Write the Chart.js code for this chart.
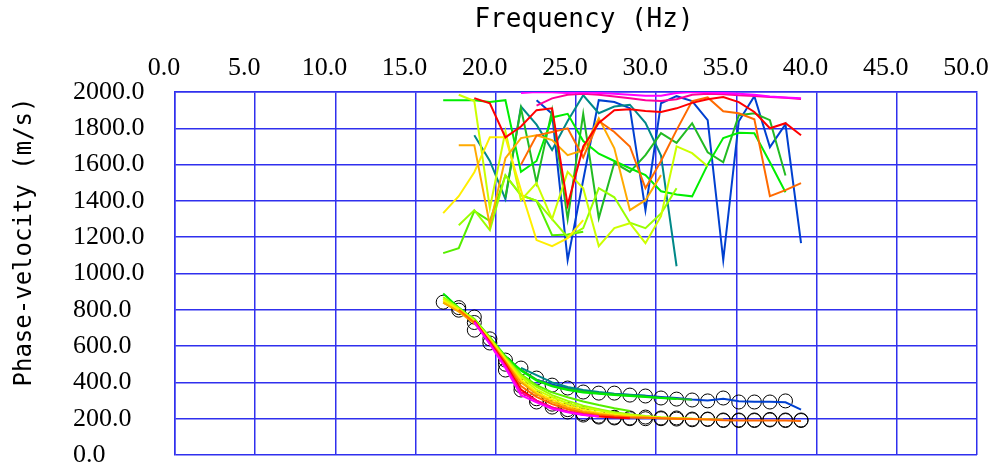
<!DOCTYPE html>
<html>
<head>
<meta charset="utf-8">
<script src="https://cdn.jsdelivr.net/npm/chart.js@4.4.0/dist/chart.umd.min.js"></script>
<style>
  body { margin: 0; background: #fff; }
  canvas { display: block; }
</style>
</head>
<body>
<canvas id="dispersion" width="998" height="472"></canvas>
<script>
// frequency samples (Hz)
var freq = [16.72, 17.69, 18.66, 19.63, 20.60, 21.57, 22.54, 23.51, 24.48, 25.45, 26.42, 27.39,
            28.36, 29.33, 30.30, 31.27, 32.24, 33.21, 34.18, 35.15, 36.12, 37.09, 38.06, 39.03];

var xTicks = [0, 5, 10, 15, 20, 25, 30, 35, 40, 45, 50];
var yTicks = [0, 200, 400, 600, 800, 1000, 1200, 1400, 1600, 1800, 2000];

var xTitle = "Frequency (Hz)";
var yTitle = "Phase-velocity (m/s)";

var shotNames  = ["magenta", "hotpink", "red", "orange", "amber", "yellow", "yellowgreen",
                  "chartreuse", "lime", "green", "medgreen", "teal", "blue"];
var shotColors = ["#ff00ff", "#ff0099", "#ff0000", "#ff6a00", "#ffaa00", "#ffee00", "#ccff00",
                  "#99ff00", "#55ee00", "#00ee00", "#22bb22", "#008888", "#0040d0"];

// higher mode phase velocities (m/s), one row per shot
var hm_magenta     = [null,null,null,null,null,1995,2000,1998,1995,1998,1995,1990,1985,1980,1980,1995,2000,1998,1995,1990,1985,1975,1970,1965];
var hm_hotpink     = [null,null,null,null,null,null,1925,1965,1985,1990,1985,1975,1965,1955,1950,1960,1985,1990,1988,1982,1978,1972,1968,1962];
var hm_red         = [null,null,1966,1938,1750,1810,1900,1910,1377,1700,1830,1900,1905,1895,1890,1910,1940,1960,1972,1944,1890,1800,1828,1762];
var hm_orange      = [null,null,null,null,null,1600,1760,1780,1800,1640,1840,1780,1700,1470,1620,1790,1950,1970,1894,1883,1850,1426,1459,1498];
var hm_amber       = [null,1707,1707,1266,1635,1746,1762,1735,1652,1680,1856,1690,1349,1404,1542,null,null,null,null,null,null,null,null,null];
var hm_yellow      = [1333,1426,1558,1751,1751,1459,1184,1151,1195,1294,null,null,null,null,null,null,null,null,null,null,null,null,null,null];
var hm_yellowgreen = [null,1985,1950,1360,1784,1404,1498,1300,1560,1470,1151,1250,1277,1167,1316,1700,1663,1591,null,null,null,null,null,null];
var hm_chartreuse  = [null,1266,1349,1239,1542,1432,1400,1300,1200,1250,1470,1420,1280,1250,1330,1470,null,null,null,null,null,null,null,null];
var hm_lime        = [1112,1140,1344,1289,1540,1432,1400,1211,1215,1230,null,null,null,null,null,null,null,null,null,null,null,null,null,null];
var hm_green       = [1955,1955,1955,1945,1955,1560,1620,1860,1880,1730,1660,1620,1580,1542,1453,1435,1425,1600,1746,1775,1773,1613,1448,null];
var hm_medgreen    = [null,null,null,null,1420,1910,1500,1900,1300,1880,1305,1610,1560,1652,1773,1720,1828,1668,1613,1872,1883,1845,1540,null];
var hm_teal        = [null,null,1762,1620,1410,1920,1820,1680,1840,1982,1883,1920,1930,1830,1650,1040,null,null,null,null,null,null,null,null];
var hm_blue        = [null,null,null,null,null,null,1955,1880,1074,1515,1955,1945,1911,1349,1938,1977,1950,1845,1074,1839,1977,1696,1822,1167];

// fundamental mode phase velocities (m/s)
var fm_magenta     = [null,null,730,610,480,330,290,255,235,220,212,null,null,null,null,null,null,null,null,null,null,null,null,null];
var fm_hotpink     = [null,null,735,615,490,345,300,262,240,224,214,null,null,null,null,null,null,null,null,null,null,null,null,null];
var fm_red         = [null,null,740,620,500,360,300,262,238,222,212,206,203,null,null,null,null,null,null,null,null,null,null,null];
var fm_orange      = [null,800,730,625,510,380,320,280,252,232,220,212,207,205,203,200,198,195,192,190,190,190,190,188];
var fm_amber       = [840,790,725,630,515,400,335,292,262,240,226,216,210,206,203,200,198,null,null,null,null,null,null,null];
var fm_yellow      = [850,800,735,635,525,415,345,305,272,250,233,222,214,208,204,201,199,197,195,null,null,null,null,null];
var fm_yellowgreen = [860,805,740,640,530,430,360,318,285,262,245,230,220,212,206,202,200,197,null,null,null,null,null,null];
var fm_chartreuse  = [870,810,745,645,535,440,375,330,298,272,252,236,224,215,208,203,200,null,null,null,null,null,null,null];
var fm_lime        = [840,800,750,650,540,445,385,345,318,295,275,258,243,null,null,null,null,null,null,null,null,null,null,null];
var fm_green       = [890,812,745,648,545,465,410,378,358,345,337,330,325,320,314,308,null,null,null,null,null,null,null,null];
var fm_medgreen    = [null,null,735,640,530,470,415,382,362,350,340,334,328,322,316,310,305,null,null,null,null,null,null,null];
var fm_teal        = [null,null,null,null,null,480,440,400,375,358,347,338,332,326,null,null,null,null,null,null,null,null,null,null];
var fm_blue        = [null,null,null,null,null,null,415,388,368,352,342,336,331,326,320,314,306,300,310,296,294,293,290,250];

// picked values (open circles)
var picksUpper = [842,798,760,617,523,479,424,385,369,347,341,341,330,325,314,308,303,298,314,292,292,292,298,null];
var picksLower = [null,null,688,null,468,358,292,264,237,220,209,204,204,209,204,204,198,198,193,193,193,193,193,193];
var picksExtra = [null,812,730,640,500,380,310,280,250,228,214,208,200,200,200,198,194,196,190,190,190,196,190,190];

var higherModes = [hm_magenta, hm_hotpink, hm_red, hm_orange, hm_amber, hm_yellow, hm_yellowgreen,
                   hm_chartreuse, hm_lime, hm_green, hm_medgreen, hm_teal, hm_blue];
var fundModes   = [fm_magenta, fm_hotpink, fm_red, fm_orange, fm_amber, fm_yellow, fm_yellowgreen,
                   fm_chartreuse, fm_lime, fm_green, fm_medgreen, fm_teal, fm_blue];

var gridBlue = "#3030ee";

function toPoints(vals) {
    return freq.map(function(f, i){ return {x: f, y: vals[i]}; })
               .filter(function(p){ return p.y !== null; });
}

function lineSet(label, vals, color) {
    return {
        label: label,
        data: toPoints(vals),
        borderColor: color,
        borderWidth: 2,
        pointRadius: 0,
        tension: 0,
        fill: false
    };
}

function pickSet(label, vals) {
    return {
        label: label,
        data: toPoints(vals),
        showLine: false,
        pointRadius: 7,
        pointBorderWidth: 1,
        pointBorderColor: "#000",
        pointBackgroundColor: "rgba(0,0,0,0)"
    };
}

// axis titles drawn by hand so they sit where the original has them
var axisTitles = {
    id: "axisTitles",
    afterDraw: function(chart) {
        var c = chart.ctx;
        c.save();
        c.fillStyle = "#000";
        c.textAlign = "center";
        c.textBaseline = "middle";
        c.font = "26px 'DejaVu Sans Mono'";
        c.fillText(xTitle, 584, 20);
        c.translate(25, 242);
        c.rotate(-Math.PI / 2);
        c.font = "24px 'DejaVu Sans Mono'";
        c.fillText(yTitle, 0, 0);
        c.restore();
    }
};

window.onload = function() {
    var datasets = [];
    for (var i = 0; i < shotNames.length; i++) {
        datasets.push(lineSet("hm " + shotNames[i], higherModes[i], shotColors[i]));
    }
    for (var j = 0; j < shotNames.length; j++) {
        datasets.push(lineSet("fm " + shotNames[j], fundModes[j], shotColors[j]));
    }
    // circles last so they sit under the lines
    datasets.push(pickSet("picks upper", picksUpper));
    datasets.push(pickSet("picks lower", picksLower));
    datasets.push(pickSet("picks extra", picksExtra));

    var ctx = document.getElementById("dispersion").getContext("2d");
    new Chart(ctx, {
        type: "line",
        data: { datasets: datasets },
        plugins: [axisTitles],
        options: {
            responsive: false,
            animation: false,
            layout: { padding: { left: 73, top: 0, right: 21, bottom: 17 } },
            plugins: {
                legend: { display: false },
                tooltip: { enabled: false }
            },
            scales: {
                x: {
                    type: "linear",
                    position: "top",
                    min: 0,
                    max: 50,
                    afterBuildTicks: function(axis) {
                        axis.ticks = xTicks.map(function(v){ return {value: v}; });
                    },
                    afterFit: function(axis) {
                        axis.height = 92;
                        axis.paddingLeft = 0;
                        axis.paddingRight = 0;
                    },
                    ticks: {
                        callback: function(v){ return v.toFixed(1); },
                        font: { family: "Liberation Serif", size: 26 },
                        color: "#000",
                        padding: 8,
                        labelOffset: -11,
                        maxRotation: 0,
                        autoSkip: false
                    },
                    grid: { color: gridBlue, lineWidth: 1.5, drawTicks: false },
                    border: { display: true, color: gridBlue, width: 1.5 }
                },
                y: {
                    type: "linear",
                    position: "left",
                    min: 0,
                    max: 2000,
                    afterBuildTicks: function(axis) {
                        axis.ticks = yTicks.map(function(v){ return {value: v}; });
                    },
                    afterFit: function(axis) {
                        axis.width = 102;
                        axis.paddingTop = 0;
                        axis.paddingBottom = 0;
                    },
                    ticks: {
                        callback: function(v){ return v.toFixed(1); },
                        font: { family: "Liberation Serif", size: 26 },
                        color: "#000",
                        padding: 29,
                        crossAlign: "far",
                        autoSkip: false
                    },
                    grid: { color: gridBlue, lineWidth: 1.5, drawTicks: false },
                    border: { display: true, color: gridBlue, width: 1.5 }
                }
            }
        }
    });
};
</script>
</body>
</html>
